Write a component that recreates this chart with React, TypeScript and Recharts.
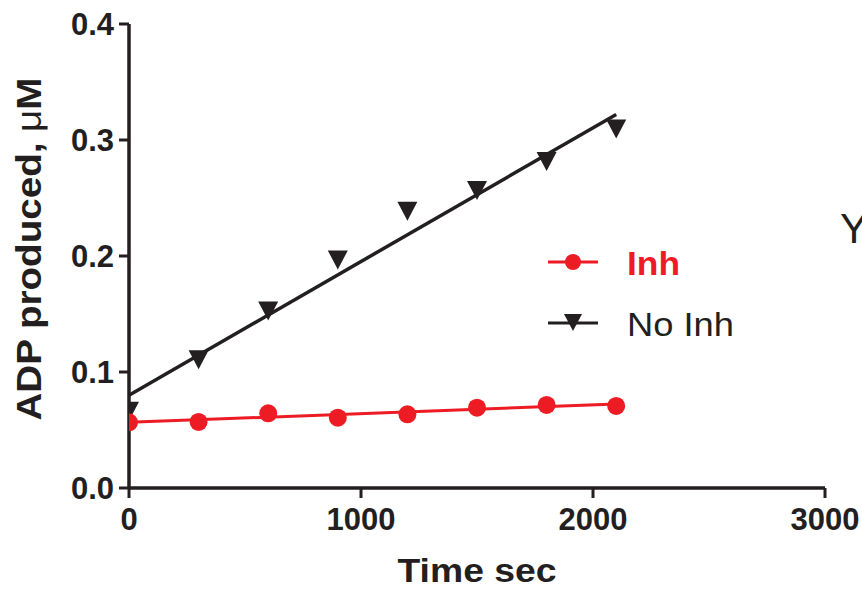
import {
  ComposedChart,
  Scatter,
  Line,
  XAxis,
  YAxis,
} from 'recharts'

// 측정 시각 (sec)
const times = [0, 300, 600, 900, 1200, 1500, 1800, 2100]
// ADP produced, µM
const inhValues = [0.0566, 0.057, 0.0644, 0.0606, 0.0635, 0.0692, 0.0716, 0.0707]
const noInhValues = [0.0667, 0.111, 0.153, 0.197, 0.239, 0.257, 0.282, 0.31]
// 선형 회귀선 (시작/끝)
const fitTimes = [0, 2100]
const inhFit = [0.0566, 0.0724]
const noInhFit = [0.08, 0.322]

const xTicks = [0, 1000, 2000, 3000]
const yTicks = [0, 0.1, 0.2, 0.3, 0.4]

const RED = '#ed1c24'
const BLACK = '#231f20'
const FONT = '"Liberation Sans", Arial, sans-serif'

const inhData = times.map((x, i) => ({ x, y: inhValues[i] }))
const noInhData = times.map((x, i) => ({ x, y: noInhValues[i] }))
const inhFitData = fitTimes.map((x, i) => ({ x, y: inhFit[i] }))
const noInhFitData = fitTimes.map((x, i) => ({ x, y: noInhFit[i] }))

// 아래로 향한 삼각형 마커
function DownTriangle(props: any) {
  const { cx, cy } = props
  if (cx == null || cy == null) return null
  return (
    <polygon
      points={`${cx - 10},${cy - 9} ${cx + 10},${cy - 9} ${cx},${cy + 10}`}
      fill={BLACK}
    />
  )
}

function RedDot(props: any) {
  const { cx, cy } = props
  if (cx == null || cy == null) return null
  return <circle cx={cx} cy={cy} r={9} fill={RED} />
}

// 범례 (차트 레이아웃에 영향 주지 않도록 오버레이)
function LegendBox() {
  return (
    <svg width={230} height={100} style={{ position: 'absolute', left: 548, top: 250, overflow: 'visible' }}>
      <line x1={0} y1={12} x2={50} y2={12} stroke={RED} strokeWidth={3} />
      <circle cx={25} cy={12} r={8} fill={RED} />
      <text
        x={79}
        y={25}
        fill={RED}
        fontSize={33}
        fontWeight="bold"
        fontFamily={FONT}
        textLength={53}
        lengthAdjust="spacingAndGlyphs"
      >
        Inh
      </text>
      <line x1={0} y1={73} x2={50} y2={73} stroke={BLACK} strokeWidth={3} />
      <polygon points="16,64 34,64 25,81" fill={BLACK} />
      <text
        x={79}
        y={86}
        fill={BLACK}
        fontSize={33}
        fontFamily={FONT}
        textLength={107}
        lengthAdjust="spacingAndGlyphs"
      >
        No Inh
      </text>
    </svg>
  )
}

export default function App() {
  return (
    <div style={{ position: 'absolute', left: 0, top: 0, width: 862, height: 589, background: '#fff' }}>
      <ComposedChart
        width={862}
        height={589}
        margin={{ top: 24, right: 37, left: 0, bottom: 0 }}
      >
        <XAxis
          type="number"
          dataKey="x"
          domain={[0, 3000]}
          ticks={xTicks}
          height={101}
          allowDataOverflow
          axisLine={{ stroke: BLACK, strokeWidth: 3.5 }}
          tickLine={{ stroke: BLACK, strokeWidth: 3 }}
          tickSize={10}
          tickMargin={10}
          tick={{ fill: BLACK, fontSize: 31, fontWeight: 'bold', fontFamily: FONT }}
          label={{
            content: () => (
              <text
                x={477}
                y={582}
                textAnchor="middle"
                fill={BLACK}
                fontSize={33}
                fontWeight="bold"
                fontFamily={FONT}
                textLength={159}
                lengthAdjust="spacingAndGlyphs"
              >
                Time sec
              </text>
            ),
          }}
        />
        <YAxis
          type="number"
          dataKey="y"
          domain={[0, 0.4]}
          ticks={yTicks}
          width={129}
          axisLine={{ stroke: BLACK, strokeWidth: 3.5 }}
          tickLine={{ stroke: BLACK, strokeWidth: 3 }}
          tickSize={10}
          tickMargin={5}
          tickFormatter={(v: number) => v.toFixed(1)}
          tick={{ fill: BLACK, fontSize: 31, fontWeight: 'bold', fontFamily: FONT }}
          label={{
            content: () => (
              <text
                x={41}
                y={249}
                transform="rotate(-90, 41, 249)"
                textAnchor="middle"
                fill={BLACK}
                fontSize={35}
                fontWeight="bold"
                fontFamily={FONT}
                textLength={343}
                lengthAdjust="spacingAndGlyphs"
              >
                ADP produced, <tspan fontWeight="normal">μ</tspan>M
              </text>
            ),
          }}
        />
        <Line
          data={noInhFitData}
          dataKey="y"
          type="linear"
          stroke={BLACK}
          strokeWidth={3.5}
          dot={false}
          activeDot={false}
          legendType="none"
          isAnimationActive={false}
        />
        <Line
          data={inhFitData}
          dataKey="y"
          type="linear"
          stroke={RED}
          strokeWidth={3}
          dot={false}
          activeDot={false}
          legendType="none"
          isAnimationActive={false}
        />
        <Scatter
          name="No Inh"
          data={noInhData}
          shape={<DownTriangle />}
          isAnimationActive={false}
        />
        <Scatter
          name="Inh"
          data={inhData}
          shape={<RedDot />}
          isAnimationActive={false}
        />
      </ComposedChart>
      <LegendBox />
      <div
        style={{
          position: 'absolute',
          left: 840,
          top: 208,
          fontFamily: FONT,
          fontSize: 42,
          color: BLACK,
          lineHeight: 1,
        }}
      >
        Y
      </div>
    </div>
  )
}
